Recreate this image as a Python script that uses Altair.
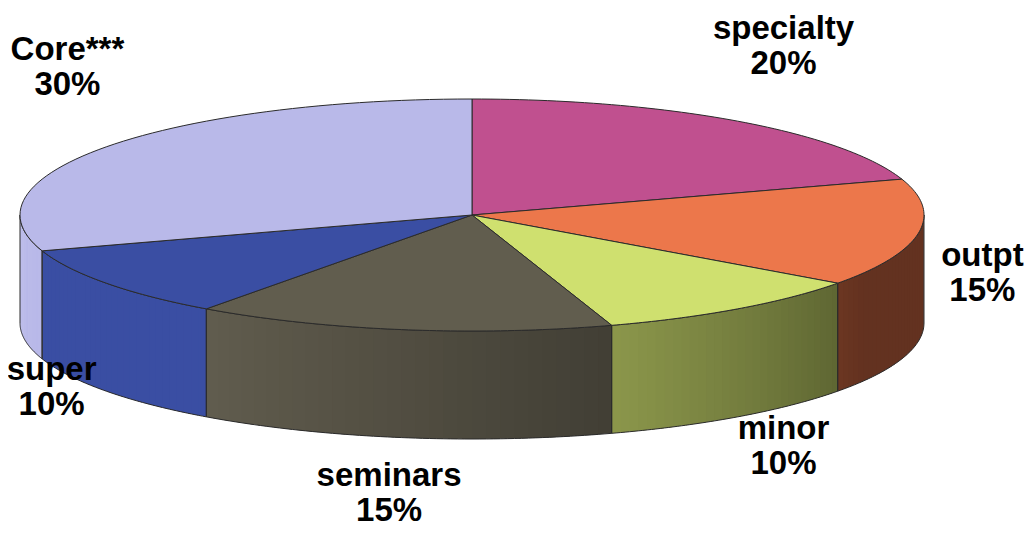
import altair as alt
import pandas as pd

# ---- data (clockwise from 12 o'clock) ----
categories = ["specialty", "outpt", "minor", "seminars", "super", "Core***"]
values = [20, 15, 10, 15, 10, 30]
pct_labels = ["20%", "15%", "10%", "15%", "10%", "30%"]
top_colors = ["#c0508f", "#ec774b", "#cfe06f", "#615d4e", "#3a4ea3", "#b9b9e9"]

# ---- geometry / style constants (pixels) ----
W, H = 1016, 520
CX, CY = 464, 207            # pie centre inside the plot area
A, B, DEPTH = 452, 116, 108  # ellipse semi-axes and side depth
N = 60                       # points per arc
M = 30                       # shading strips per side
FS = 33                      # label font size
LH = 35                      # label line height

base = pd.DataFrame({
    "cat": categories,
    "value": values,
    "pct": pct_labels,
    "color": top_colors,
    "idx": list(range(len(categories))),
})

xscale = alt.Scale(domain=[-CX, W - CX], nice=False, zero=False)
yscale = alt.Scale(domain=[CY - H, CY], nice=False, zero=False)


def slices():
    return (
        alt.Chart(base)
        .transform_window(cum="sum(value)", sort=[alt.SortField("idx")], frame=[None, 0])
        .transform_joinaggregate(total="sum(value)")
        .transform_calculate(
            a0="2*PI*(datum.cum - datum.value)/datum.total",
            a1="2*PI*datum.cum/datum.total",
        )
    )


def visible(ch):
    return ch.transform_calculate(
        s="max(datum.a0, PI/2)", e="min(datum.a1, 3*PI/2)"
    ).transform_filter("datum.e > datum.s")


# ---- side shading strips (slightly overlapping, unstroked) ----
strips = (
    visible(slices())
    .transform_calculate(j=f"sequence(0, {M})")
    .transform_flatten(["j"])
    .transform_calculate(k="sequence(0, 4)")
    .transform_flatten(["k"])
    .transform_calculate(
        t0=f"datum.s + (datum.e - datum.s) * datum.j / {M}",
        t1=f"min(datum.s + (datum.e - datum.s) * (datum.j + 1.7) / {M}, datum.e)",
        tm=f"datum.s + (datum.e - datum.s) * (datum.j + 0.5) / {M}",
    )
    .transform_calculate(
        th="(datum.k == 1 || datum.k == 2) ? datum.t1 : datum.t0",
        bottom="datum.k >= 2",
        deg="datum.tm * 180 / PI",
    )
    .transform_calculate(
        f="clamp(0.42 + 0.58 * (datum.deg - 120) / 96, 0.42, 1.0)",
        px=f"{A} * sin(datum.th)",
        py=f"{B} * cos(datum.th) - (datum.bottom ? {DEPTH} : 0)",
    )
    .transform_calculate(
        scol="'rgb(' + round(rgb(datum.color).r * datum.f) + ',' + round(rgb(datum.color).g * datum.f) + ',' + round(rgb(datum.color).b * datum.f) + ')'"
    )
    .mark_line(filled=True, strokeWidth=0)
    .encode(
        x=alt.X("px:Q", scale=xscale, axis=None),
        y=alt.Y("py:Q", scale=yscale, axis=None),
        order="k:Q",
        detail=["cat:N", "j:Q"],
        fill=alt.Fill("scol:N", scale=None),
    )
)

# ---- side outlines ----
side_outline = (
    visible(slices())
    .transform_calculate(k=f"sequence(0, {2 * N + 3})")
    .transform_flatten(["k"])
    .transform_calculate(
        t=f"datum.k <= {N} ? datum.k / {N} : (datum.k <= {2 * N + 1} ? ({2 * N + 1} - datum.k) / {N} : 0)",
        bottom=f"datum.k > {N} && datum.k <= {2 * N + 1}",
    )
    .transform_calculate(th="datum.s + (datum.e - datum.s) * datum.t")
    .transform_calculate(
        px=f"{A} * sin(datum.th)",
        py=f"{B} * cos(datum.th) - (datum.bottom ? {DEPTH} : 0)",
    )
    .mark_line(stroke="#2b2b2b", strokeWidth=1, strokeJoin="round")
    .encode(
        x=alt.X("px:Q", scale=xscale, axis=None),
        y=alt.Y("py:Q", scale=yscale, axis=None),
        order="k:Q",
        detail="cat:N",
    )
)

# ---- top faces ----
top = (
    slices()
    .transform_calculate(k=f"sequence(-1, {N + 2})")
    .transform_flatten(["k"])
    .transform_calculate(
        th=f"datum.a0 + (datum.a1 - datum.a0) * clamp(datum.k, 0, {N}) / {N}",
        inner=f"datum.k < 0 || datum.k > {N}",
    )
    .transform_calculate(
        px=f"datum.inner ? 0 : {A} * sin(datum.th)",
        py=f"datum.inner ? 0 : {B} * cos(datum.th)",
    )
    .mark_line(filled=True, stroke="#2b2b2b", strokeWidth=1, strokeJoin="round")
    .encode(
        x=alt.X("px:Q", scale=xscale, axis=None),
        y=alt.Y("py:Q", scale=yscale, axis=None),
        order="k:Q",
        detail="cat:N",
        fill=alt.Fill("color:N", scale=None),
    )
)

# ---- labels (outside the pie, kept inside the canvas) ----
labels = (
    slices()
    .transform_calculate(mid="(datum.a0 + datum.a1) / 2")
    .transform_calculate(
        hw=f"{0.24 * FS} * max(length(datum.cat), length(datum.pct))",
    )
    .transform_calculate(
        lx=f"clamp(530 * sin(datum.mid), {-CX + 4} + datum.hw, {W - CX - 2} - datum.hw)",
        ly="cos(datum.mid) >= 0 ? max(230 * cos(datum.mid), 165) : 264 * cos(datum.mid)",
        label="datum.cat + '\\n' + datum.pct",
    )
    .mark_text(
        font="Liberation Sans",
        fontWeight="bold",
        fontSize=FS,
        lineBreak="\n",
        lineHeight=LH,
        align="center",
        baseline="middle",
        color="#000000",
    )
    .encode(
        x=alt.X("lx:Q", scale=xscale, axis=None),
        y=alt.Y("ly:Q", scale=yscale, axis=None),
        text="label:N",
    )
)

chart = (
    alt.layer(strips, side_outline, top, labels)
    .properties(width=W, height=H, padding=0, autosize=alt.AutoSizeParams(type="none"))
    .configure_view(stroke=None)
)

chart.save("out.html", embed_options={"renderer": "svg", "actions": False})
